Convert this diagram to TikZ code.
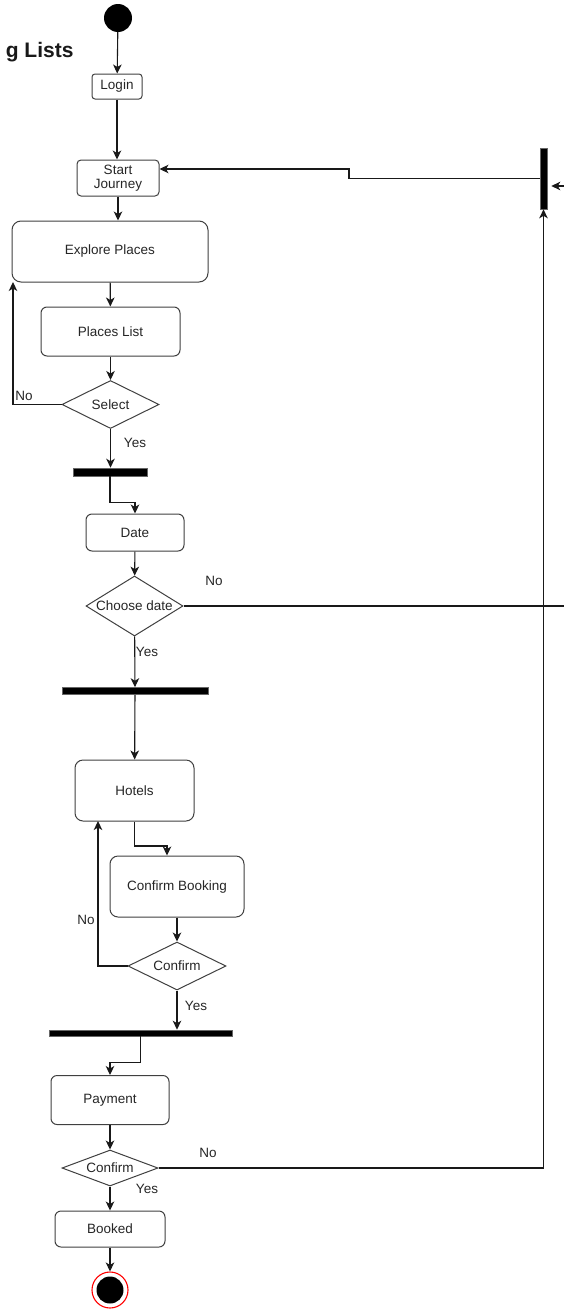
\documentclass[tikz,border=0pt]{standalone}
\usepackage{fontspec}
\setmainfont{Liberation Sans}
\usetikzlibrary{shapes.geometric,arrows.meta}
\begin{document}
\begin{tikzpicture}[x=1pt,y=-1pt,
  every node/.style={font=\fontsize{13.5}{15}\selectfont, text=black!85},
  act/.style={draw=black!75, line width=1pt, rounded corners=6pt, inner sep=0pt, align=center, fill=white},
  decision/.style={draw=black!75, line width=1pt, diamond, inner sep=0pt, fill=white},
  syncbar/.style={draw=black!60, fill=black, inner sep=0pt, line width=0.6pt},
  flow/.style={draw=black!90, line width=1.1pt, -{Stealth[length=9pt,width=8.5pt,inset=2.5pt]}},
  plain/.style={draw=black!90, line width=1.1pt},
  lbl/.style={inner sep=0pt}]
\useasboundingbox (0,0) rectangle (564,1309);

% title
\node[anchor=east, font=\bfseries\fontsize{21}{24}\selectfont, text=black!90] (title) at (77,52) {g Lists};

% start / end states
\node[circle, fill=black, minimum size=28pt, inner sep=0pt] (start) at (118,18) {};
\node[circle, draw=red, line width=1.1pt, fill=white, minimum size=36pt, inner sep=0pt] (end) at (110,1290) {};
\node[circle, fill=black, minimum size=27pt, inner sep=0pt] (endcore) at (end) {};

% activities
\node[act, rounded corners=3pt, minimum width=50pt, minimum height=25pt] (login) at (117,86.5) {Login};
\node[act, rounded corners=4pt, minimum width=82pt, minimum height=36pt, font=\fontsize{13.5}{14}\selectfont] (sj) at (118,178) {Start\\Journey};
\node[act, rounded corners=9pt, minimum width=196pt, minimum height=61pt] (explore) at (110,251.5) {Explore Places};
\node[act, minimum width=139pt, minimum height=49pt] (places) at (110.5,331.5) {Places List};
\node[act, minimum width=98pt, minimum height=37pt] (date) at (135,532.5) {Date};
\node[act, rounded corners=8pt, minimum width=119pt, minimum height=61pt] (hotels) at (134.5,790.5) {Hotels};
\node[act, rounded corners=8pt, minimum width=134pt, minimum height=61pt] (cb) at (177,886.5) {Confirm Booking};
\node[act, minimum width=118pt, minimum height=49pt] (pay) at (110,1100) {Payment};
\node[act, minimum width=110pt, minimum height=36pt] (booked) at (110,1229) {Booked};

% decisions
\node[decision, minimum width=97pt, minimum height=48pt, label=center:Select] (sel) at (110.5,404.5) {};
\node[decision, minimum width=97pt, minimum height=60pt, label=center:Choose date] (cd) at (134.5,606) {};
\node[decision, minimum width=98pt, minimum height=48pt, label=center:Confirm] (conf1) at (177,966) {};
\node[decision, minimum width=96pt, minimum height=36pt, label=center:Confirm] (conf2) at (110,1168) {};

% synchronisation bars
\node[syncbar, minimum width=74pt, minimum height=8pt] (bar1) at (110,472) {};
\node[syncbar, minimum width=146pt, minimum height=7pt] (bar2) at (135,691) {};
\node[syncbar, minimum width=183pt, minimum height=6pt] (bar3) at (140.5,1033) {};
\node[syncbar, minimum width=7pt, minimum height=61pt] (bar4) at (543.5,178.5) {};

% helper coordinates for bends and loose ends
\coordinate (selback) at (13,282);
\coordinate (hback) at (98,821);
\coordinate (hjog) at (167,846);
\coordinate (sjjog) at (349,178.5);
\coordinate (sjin) at (349,169);
\coordinate (rin) at (564,186);
\coordinate (rout) at (564,606);

% main flow
\draw[flow] (start) -- (login);
\draw[flow] (login.south) -- (login.south |- sj.north);
\draw[flow] (sj.south) -- (sj.south |- explore.north);
\draw[flow] (explore) -- (places);
\draw[flow] (places) -- (sel);
\draw[flow] (sel.south) -- (sel.south |- bar1.north);
\draw[flow] (bar1.south) -- ++(0,26) -| (date.north);
\draw[flow] (date) -- (cd);
\draw[flow] (cd) -- (bar2);
\draw[flow] (bar2) -- (hotels);
\draw[flow] (hotels.south) |- (hjog) -- (hjog |- cb.north);
\draw[flow] (cb) -- (conf1);
\draw[flow] (conf1.south) -- (conf1.south |- bar3.north);
\draw[flow] (bar3.south) -- ++(0,26) -| (pay.north);
\draw[flow] (pay) -- (conf2);
\draw[flow] (conf2) -- (booked);
\draw[flow] (booked) -- (end);

% loops back
\draw[flow] (sel.west) -| (selback);
\draw[flow] (conf1.west) -| (hback);
\draw[plain] (cd.east) -- (rout);
\draw[flow] (conf2.east) -| (bar4.south);
\draw[flow] (bar4.west) -- (sjjog) -- (sjin) -- (sjin -| sj.east);
\draw[flow] (rin) -- ([xshift=4pt]rin -| bar4.east);

% branch labels
\node[lbl] (nosel) at (24,396) {No};
\node[lbl] (yessel) at (135,443) {Yes};
\node[lbl] (nocd) at (214,581) {No};
\node[lbl] (yescd) at (147,652) {Yes};
\node[lbl] (noc1) at (86,920) {No};
\node[lbl] (yesc1) at (196,1006) {Yes};
\node[lbl] (noc2) at (208,1153) {No};
\node[lbl] (yesc2) at (147,1189) {Yes};
\end{tikzpicture}
\end{document}
